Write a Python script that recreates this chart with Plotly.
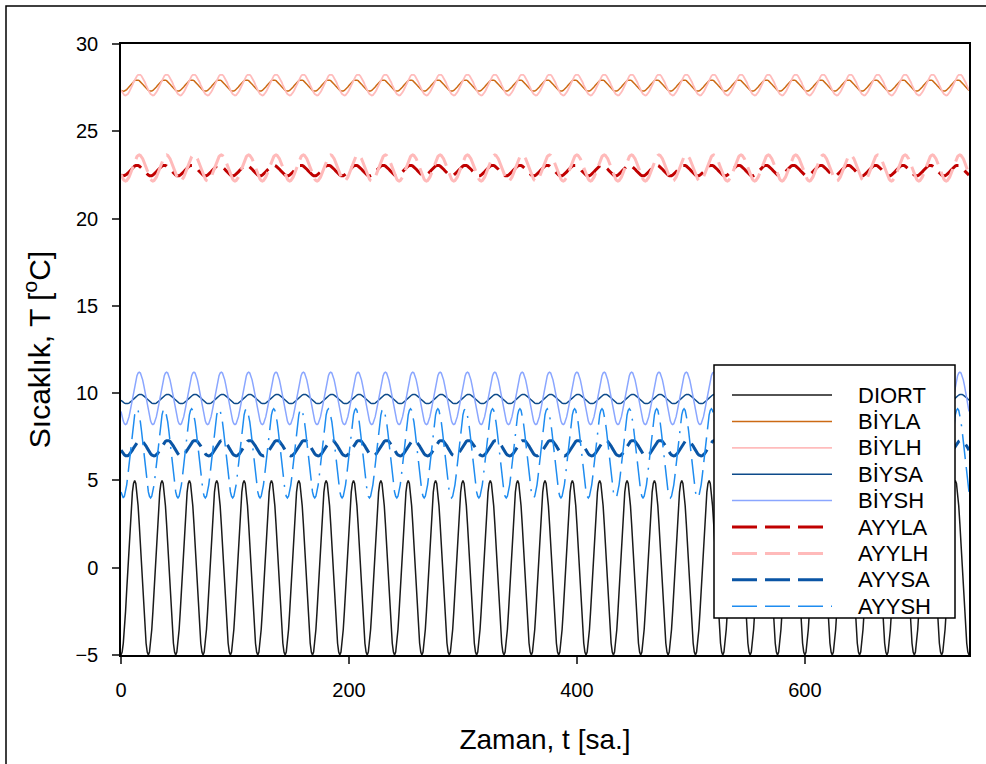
import plotly.graph_objects as go

# ---- data: hourly daily profiles (period = 24 h), 31 days ----
N_DAYS = 31

DIORT_day = [-5.0, -4.83, -4.33, -3.54, -2.5, -1.29, 0.0, 1.29, 2.5, 3.54, 4.33, 4.83,
             5.0, 4.83, 4.33, 3.54, 2.5, 1.29, 0.0, -1.29, -2.5, -3.54, -4.33, -4.83]
BIYLA_day = [27.34, 27.31, 27.30, 27.31, 27.34, 27.39, 27.46, 27.54, 27.62, 27.70, 27.78, 27.85,
             27.90, 27.93, 27.94, 27.93, 27.90, 27.85, 27.78, 27.70, 27.62, 27.54, 27.46, 27.39]
BIYLH_day = [27.35, 27.23, 27.13, 27.07, 27.05, 27.07, 27.13, 27.23, 27.35, 27.49, 27.65, 27.81,
             27.95, 28.07, 28.17, 28.23, 28.25, 28.23, 28.17, 28.07, 27.95, 27.81, 27.65, 27.49]
BIYSA_day = [9.59, 9.52, 9.47, 9.43, 9.40, 9.39, 9.40, 9.43, 9.47, 9.52, 9.59, 9.66,
             9.73, 9.79, 9.85, 9.89, 9.92, 9.93, 9.92, 9.89, 9.85, 9.79, 9.73, 9.66]
BIYSH_day = [8.95, 8.64, 8.40, 8.25, 8.20, 8.25, 8.40, 8.64, 8.95, 9.31, 9.70, 10.09,
             10.45, 10.76, 11.00, 11.15, 11.20, 11.15, 11.00, 10.76, 10.45, 10.09, 9.70, 9.31]
AYYLA_day = [22.49, 22.46, 22.45, 22.46, 22.49, 22.54, 22.60, 22.67, 22.75, 22.83, 22.90, 22.96,
             23.01, 23.04, 23.05, 23.04, 23.01, 22.96, 22.90, 22.83, 22.75, 22.67, 22.60, 22.54]
AYYLH_day = [22.53, 22.37, 22.25, 22.18, 22.15, 22.18, 22.25, 22.37, 22.53, 22.71, 22.90, 23.09,
             23.27, 23.43, 23.55, 23.62, 23.65, 23.62, 23.55, 23.43, 23.27, 23.09, 22.90, 22.71]
AYYSA_day = [6.73, 6.63, 6.53, 6.46, 6.42, 6.40, 6.42, 6.46, 6.53, 6.63, 6.73, 6.85,
             6.97, 7.08, 7.17, 7.24, 7.28, 7.30, 7.28, 7.24, 7.17, 7.08, 6.97, 6.85]
AYYSH_day = [4.34, 4.09, 4.00, 4.09, 4.34, 4.75, 5.28, 5.89, 6.55, 7.21, 7.83, 8.35,
             8.76, 9.01, 9.10, 9.01, 8.76, 8.35, 7.83, 7.21, 6.55, 5.89, 5.28, 4.75]

series_names = ["DIORT", "BİYLA", "BİYLH", "BİYSA", "BİYSH", "AYYLA", "AYYLH", "AYYSA", "AYYSH"]
series_days = [DIORT_day, BIYLA_day, BIYLH_day, BIYSA_day, BIYSH_day,
               AYYLA_day, AYYLH_day, AYYSA_day, AYYSH_day]

x_ticks = [0, 200, 400, 600]
y_ticks = [-5, 0, 5, 10, 15, 20, 25, 30]

# time axis in hours
t = list(range(N_DAYS * 24 + 1))

def month(day_profile):
    return day_profile * N_DAYS + [day_profile[0]]

DASH = "25px,8px"
DASHDOT = "25px,8px,25px,8px,25px,8px,2px,8px"
styles = {
    "DIORT": dict(color="#1a1a1a", width=1.5, dash="solid"),
    "BİYLA": dict(color="#cc6a14", width=1.5, dash="solid"),
    "BİYLH": dict(color="#ffbcbc", width=1.8, dash="solid"),
    "BİYSA": dict(color="#0d4a8a", width=1.5, dash="solid"),
    "BİYSH": dict(color="#8aa6ff", width=1.5, dash="solid"),
    "AYYLA": dict(color="#c00000", width=3, dash=DASH),
    "AYYLH": dict(color="#ffbaba", width=3, dash=DASH),
    "AYYSA": dict(color="#0a55a5", width=3, dash=DASH),
    "AYYSH": dict(color="#1e8cf0", width=1.5, dash=DASHDOT),
}

# layout geometry (pixels)
W, H = 986, 764
ML, MR, MT, MB = 121, 17, 44, 109
PW, PH = W - ML - MR, H - MT - MB

def px_x(px):
    return (px - ML) / PW

def px_y(py):
    return (H - MB - py) / PH

fig = go.Figure()
for name, prof in zip(series_names, series_days):
    fig.add_trace(go.Scatter(x=t, y=month(prof), mode="lines", name=name,
                             line=styles[name], showlegend=False, hoverinfo="skip"))

tick_font = dict(family="Liberation Sans, Arial", size=20, color="black")

fig.update_layout(
    width=W, height=H,
    margin=dict(l=ML, r=MR, t=MT, b=MB),
    paper_bgcolor="white", plot_bgcolor="white",
    showlegend=False,
    xaxis=dict(range=[0, 744], tickvals=x_ticks, ticks="outside", ticklen=7,
               tickwidth=1.5, showline=True, linecolor="black", linewidth=1.5,
               mirror=True, showgrid=False, zeroline=False, tickfont=tick_font,
               ticklabelstandoff=9,
               title=dict(text="Zaman, t [sa.]",
                          font=dict(family="Liberation Sans, Arial", size=28, color="black"),
                          standoff=30)),
    yaxis=dict(range=[-5, 30], tickvals=y_ticks, ticks="outside", ticklen=7,
               tickwidth=1.5, showline=True, linecolor="black", linewidth=1.5,
               mirror=True, showgrid=False, zeroline=False, tickfont=tick_font,
               ticklabelstandoff=10,
               title=dict(text="Sıcaklık, T [<sup>o</sup>C]",
                          font=dict(family="Liberation Sans, Arial", size=30, color="black"),
                          standoff=16)),
)

# outer frame around the figure
fig.add_shape(type="rect", xref="paper", yref="paper",
              x0=px_x(6), x1=px_x(1000), y0=px_y(800), y1=px_y(6),
              line=dict(color="black", width=1.5), fillcolor="rgba(0,0,0,0)", layer="below")

# ---- legend box (long line samples as in the original) ----
fig.add_shape(type="rect", xref="paper", yref="paper",
              x0=px_x(714), x1=px_x(955), y0=px_y(618), y1=px_y(365),
              line=dict(color="black", width=1.5), fillcolor="white", layer="above")
row0, row_step = 395, 26.4
for i, name in enumerate(series_names):
    yy = px_y(row0 + i * row_step)
    st = styles[name]
    x_end = 832 if st["dash"] != DASH else 823
    fig.add_shape(type="line", xref="paper", yref="paper",
                  x0=px_x(732), x1=px_x(x_end), y0=yy, y1=yy,
                  line=dict(color=st["color"], width=st["width"], dash=st["dash"]),
                  layer="above")
    fig.add_annotation(xref="paper", yref="paper", x=px_x(856), y=yy,
                       xanchor="left", yanchor="middle", text=name, showarrow=False,
                       font=dict(family="Liberation Sans, Arial", size=22, color="black"))

fig.write_html("out.html", config={"displayModeBar": False},
               post_script="document.body.style.margin='0';document.body.style.overflow='hidden';")
